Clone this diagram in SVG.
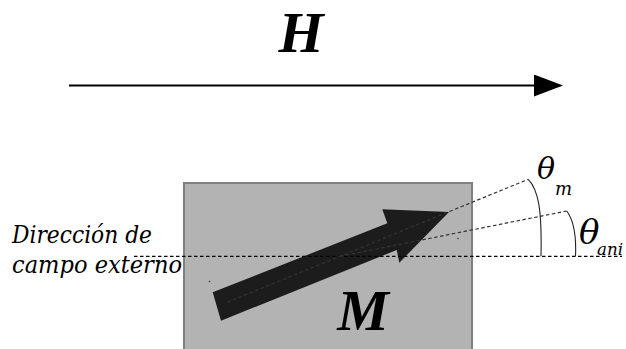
<svg xmlns="http://www.w3.org/2000/svg" width="626" height="349" viewBox="0 0 626 349">
<style>
.big{font-family:"Liberation Serif","Times New Roman",serif;font-weight:bold;font-style:italic;font-size:58px;fill:#000}
.th{font-family:"DejaVu Serif",serif;font-style:italic;fill:#000}
.lbl{font-family:"DejaVu Serif",serif;font-style:italic;font-size:24px;fill:#000}
.dash{fill:none;stroke:#000;stroke-width:1.2;stroke-dasharray:3.5 2.5}
.gdash{fill:none;stroke:#333;stroke-width:1.2;stroke-dasharray:3.5 2.5}
.arc{fill:none;stroke:#222;stroke-width:1.1}
</style>
<defs>
<marker id="ah" viewBox="0 0 29 22" refX="0" refY="11" markerWidth="29" markerHeight="22" markerUnits="userSpaceOnUse" orient="auto">
<path d="M0,0 L29,11 L0,22 Z" fill="#000"/>
</marker>
</defs>
<rect width="626" height="349" fill="#fff"/>
<g id="field">
<text class="big" x="301" y="52" text-anchor="middle">H</text>
</g>
<g id="sample">
<rect x="184" y="183" width="288" height="180" fill="#b3b3b3" stroke="#808080" stroke-width="2"/>
<path d="M212.7,292.3 L387.3,223.3 L382.3,209.3 L449,212 L399.3,262.7 L396.7,250 L221,320.7 Z" fill="#1c1c1c"/>
<circle cx="209.5" cy="281.5" r="0.8" fill="#333"/>
<circle cx="458" cy="238.5" r="0.8" fill="#333"/>
<text class="big" x="363" y="330" text-anchor="middle">M</text>
</g>
<g id="label-direction">
<text class="lbl" x="12" y="242.5" textLength="140" lengthAdjust="spacingAndGlyphs">Dirección de</text>
<text class="lbl" x="12" y="272.5" textLength="170" lengthAdjust="spacingAndGlyphs">campo externo</text>
</g>
<g id="connectors">
<line x1="69" y1="85.5" x2="534" y2="85.5" stroke="#000" stroke-width="2" marker-end="url(#ah)"/>
<line class="dash" x1="134" y1="256.3" x2="622" y2="256.3"/>
<line class="gdash" x1="227.3" y1="302.3" x2="528.3" y2="179.3"/>
<line class="gdash" x1="340" y1="256.3" x2="566.7" y2="211"/>
<path class="arc" d="M528.3,179.3 C538.5,190 542,210 541,256.3"/>
<path class="arc" d="M566.7,211 C573.5,220 576.5,234 575.5,256.3"/>
</g>
<g id="label-theta-m">
<text class="th" x="537" y="179" font-size="30">θ</text>
<text class="th" x="555" y="195" font-size="18">m</text>
</g>
<g id="label-theta-ani">
<text class="th" x="579" y="244" font-size="34">θ</text>
<text class="th" x="597" y="255" font-size="17" textLength="26" lengthAdjust="spacingAndGlyphs">ani</text>
</g>
</svg>
